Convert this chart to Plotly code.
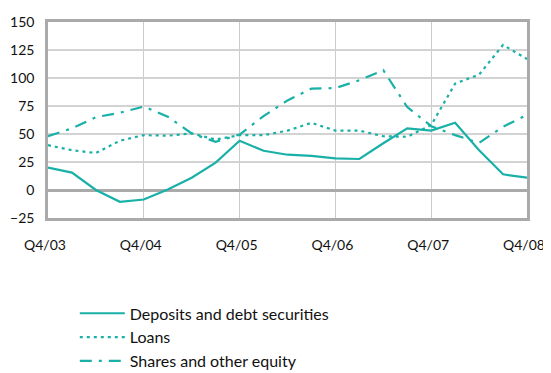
import plotly.graph_objects as go

quarters = list(range(21))
tick_labels = ["Q4/03", "Q4/04", "Q4/05", "Q4/06", "Q4/07", "Q4/08"]
tick_positions = [0, 4, 8, 12, 16, 20]

deposits = [20, 15.5, 0, -10.5, -8.5, 0.5, 11, 24.5, 44, 35, 31.5, 30.5, 28.3, 27.7, 41.7, 55, 53, 60, 35.5, 14, 11]
loans = [40, 35.5, 33, 44, 49, 48.5, 50.5, 45, 49, 49, 53, 60, 53, 53, 48, 47.5, 58, 95, 103, 129.5, 117]
shares = [48, 55, 65, 69, 74.5, 65.5, 50.5, 43, 49.5, 66, 80, 90.5, 91, 98, 107, 74, 57, 49, 42, 56.5, 67]

color = "#19b0a8"

fig = go.Figure()
fig.add_trace(go.Scatter(x=quarters, y=deposits, mode="lines", name="Deposits and debt securities",
                         line=dict(color=color, width=2.2, dash="solid")))
fig.add_trace(go.Scatter(x=quarters, y=loans, mode="lines", name="Loans",
                         line=dict(color=color, width=2.2, dash="3px,4px")))
fig.add_trace(go.Scatter(x=quarters, y=shares, mode="lines", name="Shares and other equity",
                         line=dict(color=color, width=2.2, dash="12px,7px,3px,7px")))

# the page body has an 8px default margin, so the figure is sized 8px smaller
fig.update_layout(
    width=543, height=365,
    margin=dict(l=40, r=24, t=14, b=155, autoexpand=False),
    paper_bgcolor="white", plot_bgcolor="white",
    font=dict(family="Lato, 'Open Sans', sans-serif", size=15, color="#111"),
    showlegend=True,
    legend=dict(xref="container", yref="container", x=0.123, y=0.21,
                xanchor="left", yanchor="top",
                font=dict(size=16), tracegroupgap=0, itemwidth=45,
                bgcolor="rgba(0,0,0,0)"),
)
fig.update_xaxes(range=[0, 20], tickvals=tick_positions, ticktext=tick_labels,
                 tickfont=dict(size=14), automargin=False, ticklabeloverflow="allow",
                 ticklabelshift=-3,
                 showgrid=True, gridcolor="#cccccc", gridwidth=1.3,
                 showline=True, linecolor="#aaaaaa", linewidth=2.5, mirror=True,
                 ticks="", ticklabelstandoff=12, zeroline=False)
fig.update_yaxes(range=[-25, 150], tickvals=[-25, 0, 25, 50, 75, 100, 125, 150],
                 tickfont=dict(size=14), automargin=False, ticklabeloverflow="allow",
                 showgrid=True, gridcolor="#d3d3d3", gridwidth=1.6,
                 showline=True, linecolor="#aaaaaa", linewidth=2.5, mirror=True,
                 zeroline=True, zerolinecolor="#aaaaaa", zerolinewidth=2.5,
                 ticks="", ticklabelstandoff=8)

fig.write_html("out.html")
